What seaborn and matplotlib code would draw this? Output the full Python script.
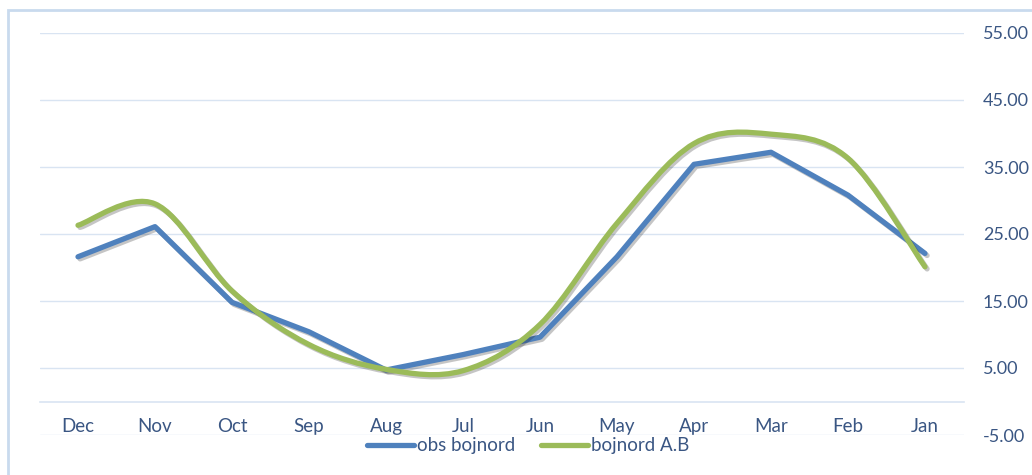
import numpy as np
import pandas as pd
import matplotlib
matplotlib.use("Agg")
import matplotlib.pyplot as plt
import seaborn as sns
from matplotlib.path import Path
from matplotlib.patches import PathPatch, Rectangle
from matplotlib.lines import Line2D
import matplotlib.patheffects as pe

months = ["Dec", "Nov", "Oct", "Sep", "Aug", "Jul", "Jun", "May", "Apr", "Mar", "Feb", "Jan"]
obs_bojnord = [21.6, 26.1, 14.8, 10.4, 4.7, 7.0, 9.6, 21.6, 35.4, 37.2, 30.8, 22.1]
bojnord_ab = [26.3, 29.5, 16.5, 8.5, 4.8, 4.6, 11.5, 26.6, 38.5, 39.9, 36.3, 20.1]
y_ticks = [-5, 5, 15, 25, 35, 45, 55]

BLUE = "#4F81BD"
GREEN = "#9BBB59"
TEXT = "#3A5683"
GRID = "#D9E4F2"

sns.set_theme(style="white")
plt.rcParams["font.family"] = ["Lato", "DejaVu Sans"]

fig = plt.figure(figsize=(10.32, 4.75), dpi=100)
ax = fig.add_axes([39.5 / 1032, 40 / 475, 924 / 1032, 402 / 475])

xpos = np.arange(len(months))
df = pd.DataFrame({"x": xpos, "obs": obs_bojnord, "ab": bojnord_ab})

line_shadow = [pe.SimpleLineShadow(offset=(1.5, -1.5), alpha=0.25), pe.Normal()]

sns.lineplot(data=df, x="x", y="obs", ax=ax, color=BLUE, linewidth=3.8,
             solid_capstyle="round", solid_joinstyle="round", zorder=3)
for ln in ax.lines:
    ln.set_path_effects(line_shadow)

# Smoothed curve (Excel-style Bezier through the data points)
pts = np.column_stack([xpos, bojnord_ab]).astype(float)
n = len(pts)
verts = [tuple(pts[0])]
codes = [Path.MOVETO]
for i in range(n - 1):
    p0 = pts[max(i - 1, 0)]
    p1 = pts[i]
    p2 = pts[i + 1]
    p3 = pts[min(i + 2, n - 1)]
    c1 = p1 + (p2 - p0) / 6.0
    c2 = p2 - (p3 - p1) / 6.0
    verts += [tuple(c1), tuple(c2), tuple(p2)]
    codes += [Path.CURVE4] * 3
patch = PathPatch(Path(verts, codes), facecolor="none", edgecolor=GREEN, lw=3.8,
                  capstyle="round", joinstyle="round", zorder=4)
patch.set_path_effects(line_shadow)
ax.add_patch(patch)

ax.set_xlim(-0.5, len(months) - 0.5)
ax.set_ylim(-5, 55)
ax.set_xlabel("")
ax.set_ylabel("")

# gridlines
ax.set_yticks(y_ticks)
ax.set_yticklabels([f"{v:.2f}" for v in y_ticks])
ax.yaxis.tick_right()
ax.grid(axis="y", color=GRID, linewidth=1.0, zorder=0)
ax.tick_params(axis="y", length=0, pad=14, labelsize=13, labelcolor=TEXT)

for s in ["top", "right", "left"]:
    ax.spines[s].set_visible(False)
ax.spines["bottom"].set_position(("data", 0))
ax.spines["bottom"].set_color(GRID)
ax.spines["bottom"].set_linewidth(1.2)

ax.set_xticks(xpos)
ax.set_xticklabels(months)
ax.set_xticks(np.arange(-0.5, len(months), 1.0), minor=True)
ax.tick_params(axis="x", which="major", length=0, pad=12, labelsize=13.5, labelcolor=TEXT)
ax.tick_params(axis="x", which="minor", length=5, width=1.2, color=GRID, direction="out")

handles = [Line2D([], [], color=BLUE, lw=3.8, solid_capstyle="round"),
           Line2D([], [], color=GREEN, lw=3.8, solid_capstyle="round")]
fig.legend(handles, ["obs bojnord", "bojnord A.B"], loc="center",
           bbox_to_anchor=(528 / 1032, 1 - 446 / 475), ncol=2, frameon=False,
           fontsize=13.5, labelcolor=TEXT, handlelength=2.5, handletextpad=0.15,
           columnspacing=1.4)

fig.patches.append(Rectangle((8 / 1032, -0.2), 1.2, 1.2 - 10 / 475, transform=fig.transFigure,
                             fill=False, edgecolor="#C9DAEE", linewidth=2, zorder=0))

fig.savefig("out.png", dpi=100)
